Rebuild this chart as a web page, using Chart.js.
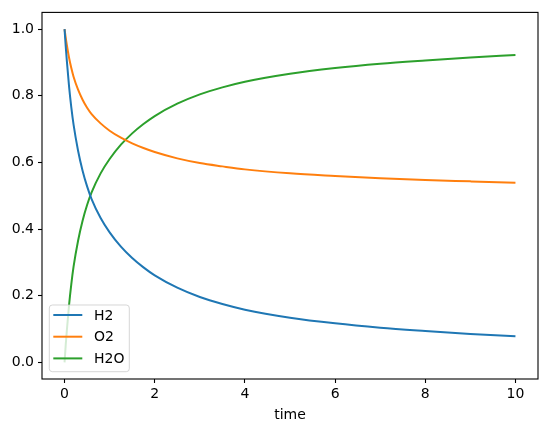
<!DOCTYPE html>
<html>
<head>
  <meta charset="utf-8"/>
  <title>H2 / O2 / H2O</title>
  <script src="https://cdn.jsdelivr.net/npm/chart.js@4.4.0/dist/chart.umd.min.js"></script>
  <style>
    html, body { margin: 0; padding: 0; background: #fff; }
    #wrap { width: 547px; height: 432px; }
  </style>
</head>
<body>
<div id="wrap"><canvas id="chart"></canvas></div>
<script>
// values
const time = [0, 0.025, 0.05, 0.1, 0.15, 0.2, 0.3, 0.4, 0.5, 0.6, 0.8, 1.0, 1.25, 1.5, 1.75, 2, 2.5, 3, 3.5, 4, 5, 6, 7, 8, 9, 10];
const h2  = [1.0, 0.950, 0.906, 0.828, 0.765, 0.713, 0.635, 0.575, 0.528, 0.490, 0.433, 0.390, 0.347, 0.313, 0.285, 0.261, 0.224, 0.196, 0.175, 0.158, 0.134, 0.117, 0.104, 0.094, 0.085, 0.078];
const o2  = [1.0, 0.975, 0.953, 0.914, 0.883, 0.857, 0.818, 0.788, 0.764, 0.745, 0.717, 0.695, 0.674, 0.657, 0.643, 0.631, 0.612, 0.598, 0.588, 0.579, 0.567, 0.559, 0.552, 0.547, 0.543, 0.539];
const h2o = [0.0, 0.050, 0.094, 0.172, 0.235, 0.287, 0.365, 0.425, 0.472, 0.510, 0.567, 0.610, 0.653, 0.687, 0.715, 0.739, 0.776, 0.804, 0.825, 0.842, 0.866, 0.883, 0.896, 0.906, 0.915, 0.922];
const xTicks = [0, 2, 4, 6, 8, 10];
const yTicks = [0, 0.2, 0.4, 0.6, 0.8, 1.0];

const FONT = { family: "'DejaVu Sans', sans-serif", size: 14 };

function pts(arr) {
  return time.map((t, i) => ({ x: t, y: arr[i] }));
}

function series(label, arr, color) {
  return {
    label: label,
    data: pts(arr),
    borderColor: color,
    backgroundColor: color,
    borderWidth: 2,
    pointRadius: 0,
    cubicInterpolationMode: 'monotone',
    fill: false
  };
}

// box round the axes + legend in the lower left corner, matplotlib style
const frameAndLegend = {
  id: 'frameAndLegend',
  afterDatasetsDraw(chart) {
    const ctx = chart.ctx;
    const a = chart.chartArea;
    ctx.save();
    ctx.strokeStyle = '#000';
    ctx.lineWidth = 1.1;
    ctx.strokeRect(a.left, a.top, a.right - a.left, a.bottom - a.top);

    const bx = a.left + 7.3, bw = 80, bh = 66.7;
    const by = a.bottom - 7.3 - bh;
    const r = 3;
    ctx.beginPath();
    ctx.moveTo(bx + r, by);
    ctx.lineTo(bx + bw - r, by);
    ctx.quadraticCurveTo(bx + bw, by, bx + bw, by + r);
    ctx.lineTo(bx + bw, by + bh - r);
    ctx.quadraticCurveTo(bx + bw, by + bh, bx + bw - r, by + bh);
    ctx.lineTo(bx + r, by + bh);
    ctx.quadraticCurveTo(bx, by + bh, bx, by + bh - r);
    ctx.lineTo(bx, by + r);
    ctx.quadraticCurveTo(bx, by, bx + r, by);
    ctx.closePath();
    ctx.fillStyle = 'rgba(255,255,255,0.8)';
    ctx.fill();
    ctx.strokeStyle = 'rgba(204,204,204,0.8)';
    ctx.lineWidth = 1;
    ctx.stroke();

    ctx.font = FONT.size + 'px ' + FONT.family;
    ctx.textBaseline = 'middle';
    ctx.textAlign = 'left';
    chart.data.datasets.forEach((ds, i) => {
      const y = by + 10 + i * 21.7;
      ctx.strokeStyle = ds.borderColor;
      ctx.lineWidth = 2;
      ctx.beginPath();
      ctx.moveTo(bx + 4, y);
      ctx.lineTo(bx + 33, y);
      ctx.stroke();
      ctx.fillStyle = '#000';
      ctx.fillText(ds.label, bx + 44.7, y + 1);
    });
    ctx.restore();
  }
};

new Chart(document.getElementById('chart'), {
  type: 'line',
  data: {
    datasets: [
      series('H2', h2, '#1f77b4'),
      series('O2', o2, '#ff7f0e'),
      series('H2O', h2o, '#2ca02c')
    ]
  },
  options: {
    responsive: true,
    maintainAspectRatio: false,
    animation: false,
    layout: { padding: { top: 9, right: 9, left: 0, bottom: 0 } },
    plugins: {
      legend: { display: false },
      tooltip: { enabled: false }
    },
    scales: {
      x: {
        type: 'linear',
        min: -0.5,
        max: 10.5,
        afterBuildTicks: s => { s.ticks = xTicks.map(v => ({ value: v })); },
        afterFit: s => { s.height = 53; },
        grid: { drawOnChartArea: false, drawTicks: true, tickLength: 4, tickColor: '#000', tickWidth: 1.1 },
        border: { display: false },
        ticks: { color: '#000', font: FONT, padding: 3, maxRotation: 0, callback: v => String(v) },
        title: { display: true, text: 'time', color: '#000', font: FONT, padding: { top: 2, bottom: 8 } }
      },
      y: {
        type: 'linear',
        min: -0.05,
        max: 1.05,
        afterBuildTicks: s => { s.ticks = yTicks.map(v => ({ value: v })); },
        afterFit: s => { s.width = 42; },
        grid: { drawOnChartArea: false, drawTicks: true, tickLength: 4, tickColor: '#000', tickWidth: 1.1 },
        border: { display: false },
        ticks: { color: '#000', font: FONT, padding: 4, callback: v => v.toFixed(1) }
      }
    }
  },
  plugins: [frameAndLegend]
});
</script>
</body>
</html>
